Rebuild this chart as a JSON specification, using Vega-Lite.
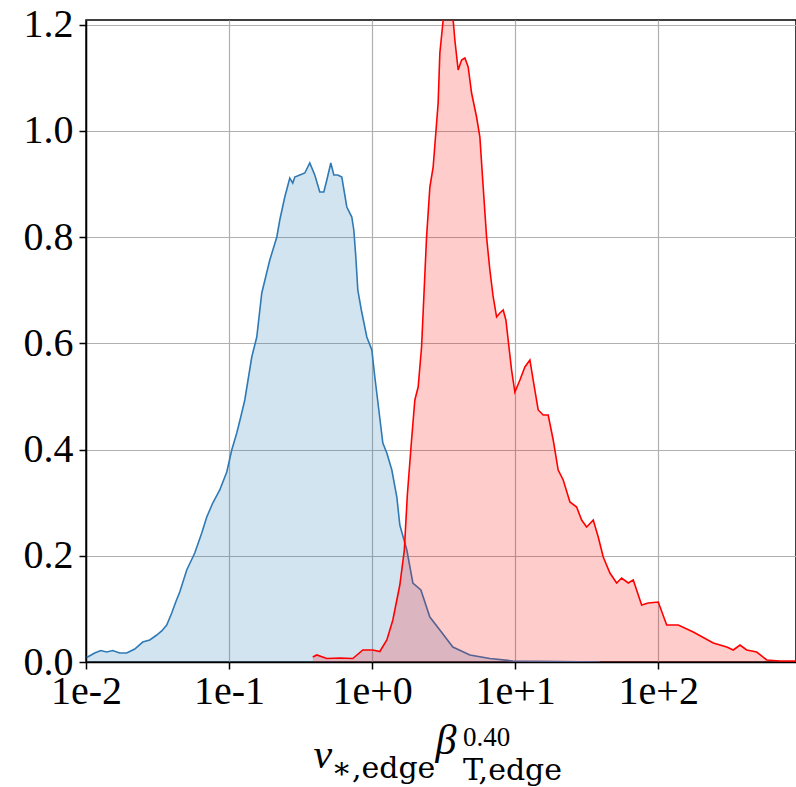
{
  "$schema": "https://vega.github.io/schema/vega-lite/v6.json",
  "width": 710,
  "height": 642,
  "autosize": {"type": "none"},
  "padding": {"left": 86, "top": 20, "right": 0, "bottom": 125},
  "background": "white",
  "config": {
    "view": {"stroke": "black", "strokeWidth": 1.5},
    "font": "Liberation Serif"
  },
  "title": {
    "text": "0.40",
    "subtitle": "T,edge",
    "orient": "bottom",
    "anchor": "start",
    "frame": "group",
    "font": "Liberation Serif",
    "fontSize": 27,
    "fontWeight": "normal",
    "color": "black",
    "subtitleFont": "DejaVu Serif",
    "subtitleFontSize": 30,
    "subtitleColor": "black",
    "subtitlePadding": 4,
    "dx": 377,
    "dy": -62
  },
  "datasets": {
    "blue": [
      {"x": 0.01011, "y": 0.0085}, {"x": 0.0115, "y": 0.0169}, {"x": 0.01267, "y": 0.0216}, {"x": 0.01396, "y": 0.0188},
      {"x": 0.01537, "y": 0.0216}, {"x": 0.0172, "y": 0.0169}, {"x": 0.01926, "y": 0.0169}, {"x": 0.02191, "y": 0.0245},
      {"x": 0.02491, "y": 0.0376}, {"x": 0.02789, "y": 0.0414}, {"x": 0.03122, "y": 0.0508}, {"x": 0.03383, "y": 0.0584},
      {"x": 0.03666, "y": 0.0696}, {"x": 0.03974, "y": 0.0922}, {"x": 0.04239, "y": 0.1129}, {"x": 0.04521, "y": 0.1318},
      {"x": 0.0506, "y": 0.1732}, {"x": 0.05756, "y": 0.2052}, {"x": 0.06443, "y": 0.2428}, {"x": 0.06984, "y": 0.2729},
      {"x": 0.07691, "y": 0.2993}, {"x": 0.0861, "y": 0.3238}, {"x": 0.09636, "y": 0.3576}, {"x": 0.1044, "y": 0.3991},
      {"x": 0.1132, "y": 0.4311}, {"x": 0.1207, "y": 0.4612}, {"x": 0.1288, "y": 0.4932}, {"x": 0.1441, "y": 0.5741},
      {"x": 0.1562, "y": 0.6118}, {"x": 0.1693, "y": 0.6946}, {"x": 0.1926, "y": 0.7567}, {"x": 0.2157, "y": 0.8},
      {"x": 0.2262, "y": 0.832}, {"x": 0.2452, "y": 0.8753}, {"x": 0.2658, "y": 0.9111}, {"x": 0.2789, "y": 0.9016},
      {"x": 0.288, "y": 0.9129}, {"x": 0.3122, "y": 0.9167}, {"x": 0.3383, "y": 0.9205}, {"x": 0.3666, "y": 0.9393},
      {"x": 0.3974, "y": 0.9167}, {"x": 0.4308, "y": 0.8847}, {"x": 0.4595, "y": 0.8847}, {"x": 0.4823, "y": 0.9073},
      {"x": 0.5144, "y": 0.9393}, {"x": 0.5399, "y": 0.9167}, {"x": 0.5756, "y": 0.9167}, {"x": 0.6139, "y": 0.9129},
      {"x": 0.6653, "y": 0.8565}, {"x": 0.7211, "y": 0.8376}, {"x": 0.7447, "y": 0.8132}, {"x": 0.7691, "y": 0.7624},
      {"x": 0.7943, "y": 0.7002}, {"x": 0.8405, "y": 0.6626}, {"x": 0.9182, "y": 0.6118}, {"x": 0.9952, "y": 0.5873},
      {"x": 1.0445, "y": 0.5365}, {"x": 1.114, "y": 0.4744}, {"x": 1.1881, "y": 0.4122}, {"x": 1.2671, "y": 0.3934},
      {"x": 1.3731, "y": 0.3614}, {"x": 1.4882, "y": 0.3106}, {"x": 1.5618, "y": 0.2579}, {"x": 1.7483, "y": 0.2108},
      {"x": 1.9264, "y": 0.1487}, {"x": 2.1911, "y": 0.1355}, {"x": 2.5327, "y": 0.0847}, {"x": 2.9745, "y": 0.0602},
      {"x": 3.6665, "y": 0.0282}, {"x": 4.8228, "y": 0.0132}, {"x": 6.6528, "y": 0.0066}, {"x": 9.636, "y": 0.0019},
      {"x": 20.54, "y": 0.0009}, {"x": 39.11, "y": 0.0}
    ],
    "red": [
      {"x": 0.3848, "y": 0.0094}, {"x": 0.4105, "y": 0.0132}, {"x": 0.4823, "y": 0.0066}, {"x": 0.5943, "y": 0.0075},
      {"x": 0.7328, "y": 0.0066}, {"x": 0.861, "y": 0.0226}, {"x": 1.0113, "y": 0.0226}, {"x": 1.132, "y": 0.0198},
      {"x": 1.2671, "y": 0.0414}, {"x": 1.3956, "y": 0.0791}, {"x": 1.5618, "y": 0.1449}, {"x": 1.6795, "y": 0.2108},
      {"x": 1.7625, "y": 0.3144}, {"x": 1.8864, "y": 0.4179}, {"x": 1.989, "y": 0.4932}, {"x": 2.0977, "y": 0.5176},
      {"x": 2.2159, "y": 0.5929}, {"x": 2.4017, "y": 0.8}, {"x": 2.5327, "y": 0.8941}, {"x": 2.671, "y": 0.9318},
      {"x": 2.8936, "y": 1.0522}, {"x": 2.9745, "y": 1.1464}, {"x": 3.137, "y": 1.2085}, {"x": 3.27, "y": 1.31},
      {"x": 3.42, "y": 1.33}, {"x": 3.56, "y": 1.27}, {"x": 3.6846, "y": 1.2085}, {"x": 3.787, "y": 1.1708},
      {"x": 3.9937, "y": 1.1144}, {"x": 4.2189, "y": 1.1332}, {"x": 4.4489, "y": 1.1369}, {"x": 4.692, "y": 1.12},
      {"x": 4.9555, "y": 1.0711}, {"x": 5.3728, "y": 1.0259}, {"x": 5.6649, "y": 0.9882}, {"x": 5.9743, "y": 0.8941},
      {"x": 6.3096, "y": 0.8}, {"x": 6.6528, "y": 0.7379}, {"x": 7.0194, "y": 0.6871}, {"x": 7.4131, "y": 0.6494},
      {"x": 7.8163, "y": 0.6569}, {"x": 8.2432, "y": 0.6626}, {"x": 8.6099, "y": 0.6438}, {"x": 9.4365, "y": 0.5496},
      {"x": 9.9517, "y": 0.5082}, {"x": 10.79, "y": 0.5308}, {"x": 11.69, "y": 0.5553}, {"x": 12.67, "y": 0.5685},
      {"x": 13.36, "y": 0.5308}, {"x": 14.48, "y": 0.4744}, {"x": 15.7, "y": 0.4649}, {"x": 17.01, "y": 0.4649},
      {"x": 18.44, "y": 0.4179}, {"x": 19.98, "y": 0.3614}, {"x": 21.66, "y": 0.3426}, {"x": 24.13, "y": 0.3012},
      {"x": 26.88, "y": 0.2918}, {"x": 29.13, "y": 0.2673}, {"x": 31.57, "y": 0.2541}, {"x": 35.12, "y": 0.2673},
      {"x": 38.06, "y": 0.2353}, {"x": 41.25, "y": 0.1976}, {"x": 45.94, "y": 0.1675}, {"x": 51.19, "y": 0.1487},
      {"x": 55.48, "y": 0.1581}, {"x": 61.69, "y": 0.1487}, {"x": 66.86, "y": 0.1544}, {"x": 76.54, "y": 0.1073},
      {"x": 85.13, "y": 0.1111}, {"x": 100, "y": 0.1129}, {"x": 114.5, "y": 0.0696}, {"x": 138.0, "y": 0.0696},
      {"x": 175.7, "y": 0.0565}, {"x": 242.4, "y": 0.0358}, {"x": 300.9, "y": 0.0282}, {"x": 334.6, "y": 0.0226},
      {"x": 372.7, "y": 0.032}, {"x": 415.2, "y": 0.0226}, {"x": 487.6, "y": 0.0188}, {"x": 572.8, "y": 0.0038},
      {"x": 709.6, "y": 0.0019}, {"x": 1000, "y": 0.0019}
    ]
  },
  "encoding": {
    "y": {
      "field": "y",
      "type": "quantitative",
      "scale": {"domain": [0, 1.2085], "nice": false, "zero": false},
      "axis": {
        "title": null,
        "values": [0, 0.2, 0.4, 0.6, 0.8, 1.0, 1.2],
        "format": ".1f",
        "labelFont": "Liberation Serif",
        "labelFontSize": 40,
        "labelColor": "black",
        "labelFlush": false,
        "labelOverlap": false,
        "labelPadding": 6,
        "tickColor": "black",
        "tickSize": 7,
        "tickWidth": 1.5,
        "domainColor": "black",
        "domainWidth": 1.5,
        "grid": true,
        "gridColor": "#b0b0b0",
        "gridWidth": 1.2,
        "gridOpacity": 1
      }
    }
  },
  "layer": [
    {
      "data": {"name": "blue"},
      "mark": {"type": "area", "color": "#1f77b4", "opacity": 0.2, "clip": true},
      "encoding": {
        "x": {
          "field": "x",
          "type": "quantitative",
          "scale": {"type": "log", "domain": [0.01, 918], "nice": false},
          "axis": {
            "orient": "bottom",
            "values": [0.01, 0.1, 1, 10, 100],
            "format": ".0e",
            "labelFont": "Liberation Serif",
            "labelFontSize": 40,
            "labelColor": "black",
            "labelFlush": false,
            "labelOverlap": false,
            "labelPadding": 2,
            "tickColor": "black",
            "tickSize": 7,
            "tickWidth": 1.5,
            "domainColor": "black",
            "domainWidth": 1.5,
            "grid": true,
            "gridColor": "#b0b0b0",
            "gridWidth": 1.2,
            "gridOpacity": 1,
            "title": "ν",
            "titleFont": "Liberation Serif",
            "titleFontSize": 42,
            "titleFontStyle": "italic",
            "titleFontWeight": "normal",
            "titleColor": "black",
            "titleAngle": 0,
            "titleAlign": "left",
            "titleBaseline": "alphabetic",
            "titleX": 227,
            "titleY": 105
          }
        }
      }
    },
    {
      "data": {"name": "blue"},
      "mark": {"type": "line", "color": "#2f7ab5", "strokeWidth": 1.6, "clip": true},
      "encoding": {
        "x": {
          "field": "x",
          "type": "quantitative",
          "scale": {"type": "log", "domain": [0.01, 918], "nice": false},
          "axis": {
            "orient": "bottom",
            "labels": false,
            "ticks": false,
            "domain": false,
            "grid": false,
            "title": "∗,edge",
            "titleFont": "DejaVu Serif",
            "titleFontSize": 30,
            "titleFontWeight": "normal",
            "titleColor": "black",
            "titleAngle": 0,
            "titleAlign": "left",
            "titleBaseline": "alphabetic",
            "titleX": 245,
            "titleY": 115
          }
        }
      }
    },
    {
      "data": {"name": "red"},
      "mark": {"type": "area", "color": "#ff0000", "opacity": 0.2, "clip": true},
      "encoding": {
        "x": {
          "field": "x",
          "type": "quantitative",
          "scale": {"type": "log", "domain": [0.01, 918], "nice": false},
          "axis": {
            "orient": "bottom",
            "labels": false,
            "ticks": false,
            "domain": false,
            "grid": false,
            "title": "β",
            "titleFont": "Liberation Serif",
            "titleFontSize": 42,
            "titleFontStyle": "italic",
            "titleFontWeight": "normal",
            "titleColor": "black",
            "titleAngle": 0,
            "titleAlign": "left",
            "titleBaseline": "alphabetic",
            "titleX": 349,
            "titleY": 91
          }
        }
      }
    },
    {
      "data": {"name": "red"},
      "mark": {"type": "line", "color": "#ff0000", "strokeWidth": 1.6, "clip": true},
      "encoding": {
        "x": {
          "field": "x",
          "type": "quantitative",
          "scale": {"type": "log", "domain": [0.01, 918], "nice": false},
          "axis": null
        }
      }
    }
  ],
  "resolve": {"axis": {"x": "independent"}}
}
